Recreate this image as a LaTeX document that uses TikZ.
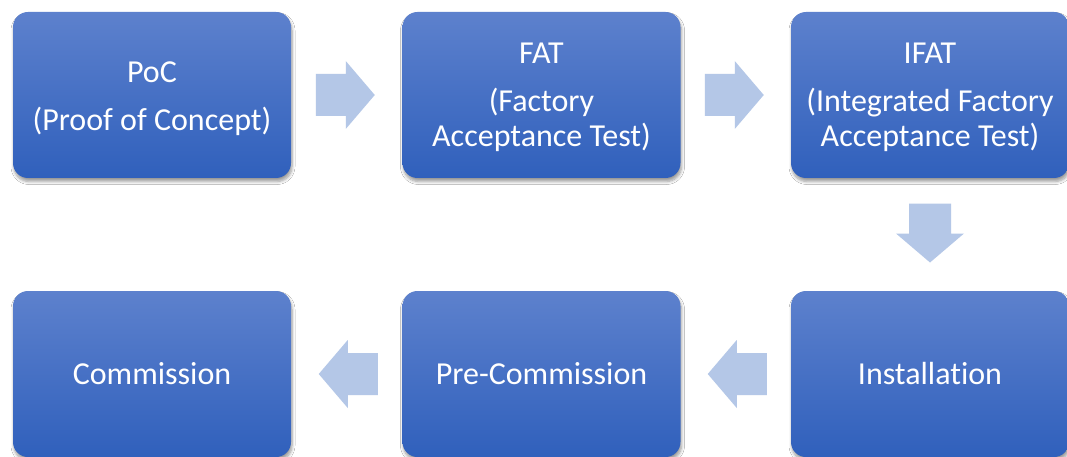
\documentclass[tikz,border=0pt]{standalone}
\usepackage{fontspec}
\setmainfont[Ligatures={NoCommon}]{Carlito}
\usetikzlibrary{shadows,shadows.blur,calc}
\definecolor{boxtop}{RGB}{93,129,205}
\definecolor{boxbot}{RGB}{48,96,188}
\definecolor{arrowfill}{RGB}{180,199,231}
\tikzset{
  stage/.style={rounded corners=15pt, minimum width=278pt, minimum height=166pt,
    top color=boxtop, bottom color=boxbot, inner sep=0pt,
    blur shadow={shadow xshift=1pt, shadow yshift=-3.5pt, shadow opacity=40, shadow blur steps=6, shadow blur radius=3pt}},
  stagetext/.style={text=white, align=center, inner sep=0pt,
    font=\fontsize{32}{35}\selectfont},
  blockarrow/.pic={\fill[arrowfill] (-29.5,-21) -- (0.5,-21) -- (0.5,-34) -- (29.5,0) -- (0.5,34) -- (0.5,21) -- (-29.5,21) -- cycle;}
}
\begin{document}
\begin{tikzpicture}[x=1pt,y=-1pt]
\fill[white] (0,0) rectangle (1067,457);
\useasboundingbox (0,0) rectangle (1067,457);
\node[stage] (poc)  at (152,95) {};
\node[stage] (fat)  at (541.5,95) {};
\node[stage] (ifat) at (930,95) {};
\node[stage] (inst) at (930,374) {};
\node[stage] (pre)  at (541.5,374) {};
\node[stage] (com)  at (152,374) {};
\node[stagetext] (pocT)  at ($(poc)+(0,3.5)$) {PoC\\[13pt](Proof of Concept)};
\node[stagetext] (fatT)  at ($(fat)+(0,2.5)$) {FAT\\[13pt](Factory\\Acceptance Test)};
\node[stagetext] (ifatT) at ($(ifat)+(0,2.5)$) {IFAT\\[13pt](Integrated Factory\\Acceptance Test)};
\node[stagetext] (instT) at ($(inst)+(0,-0.5)$) {Installation};
\node[stagetext] (preT)  at ($(pre)+(0,-0.5)$) {Pre-Commission};
\node[stagetext] (comT)  at ($(com)+(0,-0.5)$) {Commission};
\pic at ($(poc.east)!0.5!(fat.west)+(-1.5,0)$) {blockarrow};
\pic at ($(fat.east)!0.5!(ifat.west)+(-1.5,0)$) {blockarrow};
\pic[rotate=-90] at ($(ifat.south)!0.5!(inst.north)+(0,-1.5)$) {blockarrow};
\pic[rotate=180] at ($(inst.west)!0.5!(pre.east)+(1.5,0)$) {blockarrow};
\pic[rotate=180] at ($(pre.west)!0.5!(com.east)+(1.5,0)$) {blockarrow};
\end{tikzpicture}
\end{document}
